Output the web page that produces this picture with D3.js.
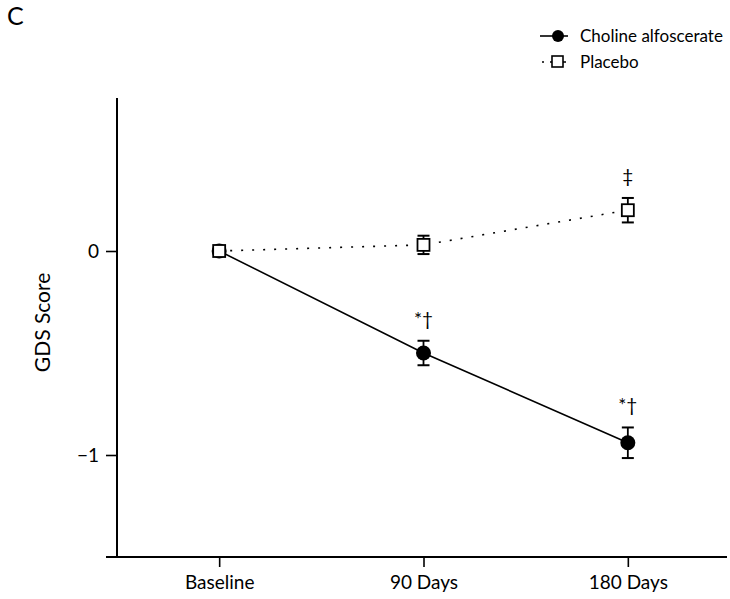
<!DOCTYPE html>
<html>
<head>
<meta charset="utf-8">
<script src="https://cdn.jsdelivr.net/npm/d3@7"></script>
<style>
  body { margin: 0; background: #fff; }
  svg { font-family: Lato, "Open Sans", sans-serif; }
</style>
</head>
<body>
<div id="chart"></div>
<script>
// data
var timepoints = ["Baseline", "90 Days", "180 Days"];
var cholineMean = [0, -0.50, -0.94];
var cholineErr = [0, 0.06, 0.075];
var placeboMean = [0, 0.03, 0.20];
var placeboErr = [0, 0.045, 0.06];
var cholineNotes = ["", "*\u2020", "*\u2020"];
var placeboNotes = ["", "", "\u2021"];
var yTicks = [-1, 0];

var width = 730, height = 599;

var svg = d3.select("#chart")
    .append("svg")
    .attr("width", width)
    .attr("height", height);

var x = d3.scalePoint()
    .domain(timepoints)
    .range([117, 730])
    .padding(0.5);

var y = d3.scaleLinear()
    .domain([-1.5, 0.75])
    .range([557, 98]);

// panel letter
svg.append("text")
    .attr("x", 7)
    .attr("y", 25)
    .attr("font-size", 25)
    .text("C");

// y axis
var yAxis = svg.append("g")
    .attr("transform", "translate(117,0)")
    .call(d3.axisLeft(y).tickValues(yTicks).tickSize(11).tickPadding(7).tickFormat(d3.format("d")));
yAxis.select(".domain").remove();
yAxis.selectAll("line").attr("stroke-width", 1.6);
yAxis.selectAll("text").attr("font-size", 19).attr("fill", "#000").style("font-family", "Lato, sans-serif");

svg.append("line")
    .attr("x1", 117).attr("x2", 117)
    .attr("y1", 98).attr("y2", 557)
    .attr("stroke", "#000").attr("stroke-width", 2);

// x axis
var xAxis = svg.append("g")
    .attr("transform", "translate(0,557)")
    .call(d3.axisBottom(x).tickSize(10).tickPadding(9));
xAxis.select(".domain").remove();
xAxis.selectAll("line").attr("stroke-width", 1.6);
xAxis.selectAll("text").attr("font-size", 19).attr("fill", "#000").style("font-family", "Lato, sans-serif");

svg.append("line")
    .attr("x1", 106).attr("x2", 727)
    .attr("y1", 557).attr("y2", 557)
    .attr("stroke", "#000").attr("stroke-width", 2);

svg.append("text")
    .attr("transform", "translate(50," + y(-0.35) + ") rotate(-90)")
    .attr("text-anchor", "middle")
    .attr("font-size", 21)
    .text("GDS Score");

var line = d3.line()
    .x(function (d, i) { return x(timepoints[i]); })
    .y(function (d) { return y(d); });

// placebo line (dotted)
svg.append("path")
    .datum(placeboMean)
    .attr("fill", "none")
    .attr("stroke", "#000")
    .attr("stroke-width", 1.6)
    .attr("stroke-dasharray", "2,9")
    .attr("d", line);

// choline line
svg.append("path")
    .datum(cholineMean)
    .attr("fill", "none")
    .attr("stroke", "#000")
    .attr("stroke-width", 1.6)
    .attr("d", line);

function errorBars(mean, err) {
    var g = svg.append("g");
    mean.forEach(function (m, i) {
        if (!err[i]) return;
        var cx = x(timepoints[i]);
        g.append("line")
            .attr("x1", cx).attr("x2", cx)
            .attr("y1", y(m + err[i])).attr("y2", y(m - err[i]))
            .attr("stroke", "#000").attr("stroke-width", 1.8);
        [m + err[i], m - err[i]].forEach(function (v) {
            g.append("line")
                .attr("x1", cx - 6).attr("x2", cx + 6)
                .attr("y1", y(v)).attr("y2", y(v))
                .attr("stroke", "#000").attr("stroke-width", 2);
        });
    });
}
errorBars(cholineMean, cholineErr);
errorBars(placeboMean, placeboErr);

svg.selectAll(".dot")
    .data(cholineMean)
    .enter().append("circle")
    .attr("class", "dot")
    .attr("cx", function (d, i) { return x(timepoints[i]); })
    .attr("cy", function (d) { return y(d); })
    .attr("r", 7.5)
    .attr("fill", "#000");

svg.selectAll(".sq")
    .data(placeboMean)
    .enter().append("rect")
    .attr("class", "sq")
    .attr("x", function (d, i) { return x(timepoints[i]) - 6; })
    .attr("y", function (d) { return y(d) - 6; })
    .attr("width", 12)
    .attr("height", 12)
    .attr("fill", "#fff")
    .attr("stroke", "#000")
    .attr("stroke-width", 1.8);

// significance marks
svg.selectAll(".cnote")
    .data(cholineNotes)
    .enter().append("text")
    .attr("x", function (d, i) { return x(timepoints[i]); })
    .attr("y", function (d, i) { return y(cholineMean[i] + cholineErr[i]) - 15; })
    .attr("text-anchor", "middle")
    .attr("font-size", 19)
    .text(function (d) { return d; });

svg.selectAll(".pnote")
    .data(placeboNotes)
    .enter().append("text")
    .attr("x", function (d, i) { return x(timepoints[i]); })
    .attr("y", function (d, i) { return y(placeboMean[i] + placeboErr[i]) - 15; })
    .attr("text-anchor", "middle")
    .attr("font-size", 19)
    .text(function (d) { return d; });

// legend
var legend = svg.append("g").attr("transform", "translate(544,0)");
legend.append("line")
    .attr("x1", -4).attr("x2", 24).attr("y1", 36).attr("y2", 36)
    .attr("stroke", "#000").attr("stroke-width", 1.6);
legend.append("circle")
    .attr("cx", 14).attr("cy", 36).attr("r", 6).attr("fill", "#000");
legend.append("text")
    .attr("x", 36).attr("y", 42)
    .attr("font-size", 17)
    .text("Choline alfoscerate");
legend.append("line")
    .attr("x1", -2).attr("x2", 24).attr("y1", 62).attr("y2", 62)
    .attr("stroke", "#000").attr("stroke-width", 1.6)
    .attr("stroke-dasharray", "2,6,16");
legend.append("rect")
    .attr("x", 8).attr("y", 56).attr("width", 11).attr("height", 11)
    .attr("fill", "#fff").attr("stroke", "#000").attr("stroke-width", 1.6);
legend.append("text")
    .attr("x", 36).attr("y", 68)
    .attr("font-size", 17)
    .text("Placebo");
</script>
</body>
</html>
